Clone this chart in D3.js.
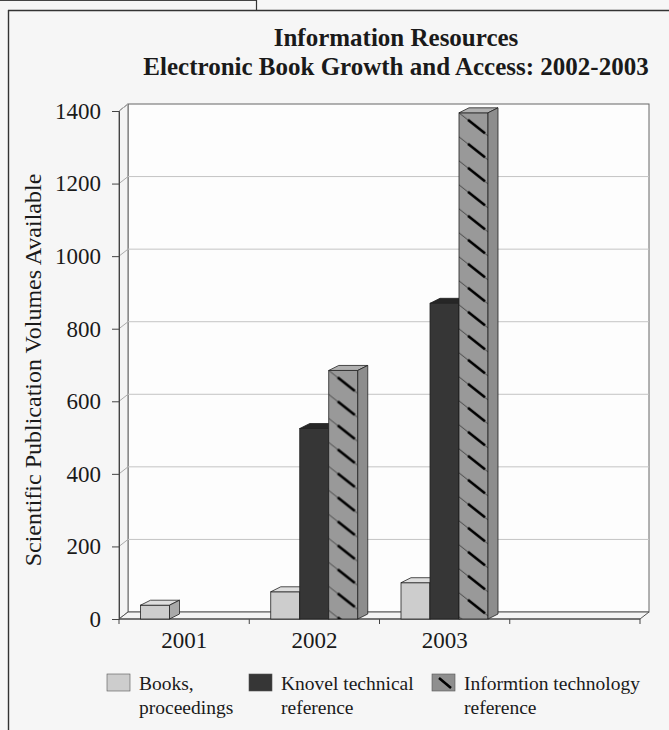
<!DOCTYPE html>
<html>
<head>
<meta charset="utf-8">
<script src="https://cdn.jsdelivr.net/npm/d3@7"></script>
<style>
  html, body { margin: 0; padding: 0; background: #f6f6f6; }
  svg { display: block; }
  text { font-family: "Liberation Serif", "Times New Roman", serif; fill: #1a1a1a; }
</style>
</head>
<body>
<svg id="chart" width="669" height="730"></svg>
<script>
// ---- data ----
const categories = ["2001", "2002", "2003", ""];
const seriesKeys = ["books", "knovel", "itref"];
const booksValues  = [38, 75, 100, 0];
const knovelValues = [0, 525, 870, 0];
const itrefValues  = [0, 685, 1395, 0];
const yTicks = [0, 200, 400, 600, 800, 1000, 1200, 1400];
const titleLines = ["Information Resources", "Electronic Book Growth and Access: 2002-2003"];
const yAxisTitle = "Scientific Publication Volumes Available";
const legendLines = [["Books,", "proceedings"], ["Knovel technical", "reference"], ["Informtion technology", "reference"]];

const seriesValues = { books: booksValues, knovel: knovelValues, itref: itrefValues };

// ---- layout ----
const svg = d3.select("#chart");
const x0 = 119, x1 = 640, yBase = 619, yTop = 111;
const wallDx = 9, wallDy = -7;
const barDx = 10, barDy = -5;

const y = d3.scaleLinear().domain([0, 1400]).range([yBase, yTop]);
const xCat = d3.scaleBand().domain(categories).range([x0, x1]);
const xSer = d3.scaleBand().domain(seriesKeys).range([21.5, 108.5]);

const styles = {
  books:  { front: "#cdcdcd", top: "#dedede", side: "#a9a9a9" },
  knovel: { front: "#363636", top: "#262626", side: "#1e1e1e" },
  itref:  { front: "url(#hatch)", top: "#b0b0b0", side: "#8d8d8d" }
};

// frame
svg.append("line").attr("x1", 0).attr("x2", 256).attr("y1", 0.5).attr("y2", 0.5).attr("stroke", "#444").attr("stroke-width", 1);
svg.append("line").attr("x1", 256.5).attr("x2", 256.5).attr("y1", 0).attr("y2", 10).attr("stroke", "#333").attr("stroke-width", 1.2);
svg.append("line").attr("x1", 8).attr("x2", 669).attr("y1", 10.5).attr("y2", 10.5).attr("stroke", "#333").attr("stroke-width", 1.4);
svg.append("line").attr("x1", 8.5).attr("x2", 8.5).attr("y1", 10).attr("y2", 730).attr("stroke", "#333").attr("stroke-width", 1.4);

// defs: hatch pattern
const defs = svg.append("defs");
const pat = defs.append("pattern").attr("id", "hatch")
  .attr("patternUnits", "userSpaceOnUse").attr("width", 29).attr("height", 24);
pat.append("rect").attr("width", 29).attr("height", 24).attr("fill", "#999");
[-24, 0, 24].forEach(o => {
  pat.append("line").attr("x1", 0).attr("y1", o).attr("x2", 29).attr("y2", o + 23)
    .attr("stroke", "#3a3a3a").attr("stroke-width", 0.9);
  pat.append("line").attr("x1", 9).attr("y1", o + 7).attr("x2", 26).attr("y2", o + 20.5)
    .attr("stroke", "#000").attr("stroke-width", 2.6);
});

// title
svg.append("g").selectAll("text").data(titleLines).join("text")
  .attr("x", 396).attr("y", (d, i) => 46 + i * 29)
  .attr("text-anchor", "middle").attr("font-weight", "bold").attr("font-size", 25)
  .text(d => d);

// walls
const wall = svg.append("g");
wall.append("rect").attr("x", x0 + wallDx).attr("y", yTop + wallDy)
  .attr("width", x1 - x0).attr("height", yBase - yTop)
  .attr("fill", "#fdfdfd").attr("stroke", "#666").attr("stroke-width", 1);
wall.append("path")
  .attr("d", `M${x0},${yTop}L${x0 + wallDx},${yTop + wallDy}L${x0 + wallDx},${yBase + wallDy}L${x0},${yBase}Z`)
  .attr("fill", "#f4f4f4").attr("stroke", "#666").attr("stroke-width", 1);
wall.append("path")
  .attr("d", `M${x0},${yBase}L${x1},${yBase}L${x1 + wallDx},${yBase + wallDy}L${x0 + wallDx},${yBase + wallDy}Z`)
  .attr("fill", "#f4f4f4").attr("stroke", "#555").attr("stroke-width", 1);

// gridlines on back wall + diagonal connectors on left wall
const grid = svg.append("g");
grid.selectAll("line.g").data(yTicks.filter(v => v > 0 && v < 1400)).join("line")
  .attr("class", "g")
  .attr("x1", x0 + wallDx).attr("x2", x1 + wallDx)
  .attr("y1", d => y(d) + wallDy).attr("y2", d => y(d) + wallDy)
  .attr("stroke", "#c4c4c4").attr("stroke-width", 1);
grid.selectAll("line.c").data(yTicks.filter(v => v > 0)).join("line")
  .attr("class", "c")
  .attr("x1", x0).attr("x2", x0 + wallDx)
  .attr("y1", d => y(d)).attr("y2", d => y(d) + wallDy)
  .attr("stroke", "#aaa").attr("stroke-width", 1);

// y axis
const yAxis = d3.axisLeft(y).tickValues(yTicks).tickFormat(d3.format("d")).tickSize(7).tickPadding(11);
const gy = svg.append("g").attr("transform", `translate(${x0},0)`).call(yAxis);
gy.select(".domain").attr("stroke", "#444");
gy.selectAll(".tick line").attr("stroke", "#444");
gy.selectAll(".tick text").attr("font-size", 23).attr("font-family", "Liberation Serif").attr("fill", "#1a1a1a");

// x axis (ticks at category boundaries)
const gx = svg.append("g");
gx.append("line").attr("x1", x0).attr("x2", x1).attr("y1", yBase).attr("y2", yBase).attr("stroke", "#444");
const boundaries = categories.map(c => xCat(c)).concat([xCat(categories[categories.length - 1]) + xCat.bandwidth()]);
gx.selectAll("line.t").data(boundaries).join("line").attr("class", "t")
  .attr("x1", d => d).attr("x2", d => d).attr("y1", yBase).attr("y2", yBase + 5)
  .attr("stroke", "#444");
gx.selectAll("text").data(categories).join("text")
  .attr("x", d => xCat(d) + xCat.bandwidth() / 2).attr("y", 648)
  .attr("text-anchor", "middle").attr("font-size", 23)
  .text(d => d);

// bars
const bars = [];
categories.forEach((c, ci) => {
  seriesKeys.forEach(k => {
    const v = seriesValues[k][ci];
    if (v > 0) bars.push({ c, k, v });
  });
});
const gb = svg.append("g");
bars.forEach((b, i) => {
  const bx = xCat(b.c) + xSer(b.k);
  const bw = xSer.bandwidth();
  const yt = y(b.v), yb = y(0);
  const st = styles[b.k];
  const g = gb.append("g");
  if (b.k === "itref") {
    const id = "hatch" + i;
    defs.append("pattern").attr("id", id).attr("href", "#hatch")
      .attr("patternTransform", `translate(${bx},${yt})`);
    g.append("rect").attr("x", bx).attr("y", yt).attr("width", bw).attr("height", yb - yt)
      .attr("fill", `url(#${id})`).attr("stroke", "#222").attr("stroke-width", 0.8);
  } else {
    g.append("rect").attr("x", bx).attr("y", yt).attr("width", bw).attr("height", yb - yt)
      .attr("fill", st.front).attr("stroke", "#222").attr("stroke-width", 0.8);
  }
  g.append("path")
    .attr("d", `M${bx},${yt}L${bx + barDx},${yt + barDy}L${bx + bw + barDx},${yt + barDy}L${bx + bw},${yt}Z`)
    .attr("fill", st.top).attr("stroke", "#222").attr("stroke-width", 0.8);
  g.append("path")
    .attr("d", `M${bx + bw},${yt}L${bx + bw + barDx},${yt + barDy}L${bx + bw + barDx},${yb + barDy}L${bx + bw},${yb}Z`)
    .attr("fill", st.side).attr("stroke", "#222").attr("stroke-width", 0.8);
});

// y axis title
svg.append("text")
  .attr("transform", `translate(41,370) rotate(-90)`)
  .attr("text-anchor", "middle").attr("font-size", 24)
  .text(yAxisTitle);

// legend
const legendX = [107, 249, 432];
const lg = svg.append("g");
seriesKeys.forEach((k, i) => {
  const gx0 = legendX[i];
  if (k === "itref") {
    lg.append("rect").attr("x", gx0).attr("y", 674).attr("width", 23).attr("height", 17)
      .attr("fill", "#8f8f8f").attr("stroke", "#555").attr("stroke-width", 0.6);
    lg.append("line").attr("x1", gx0 + 7).attr("y1", 678).attr("x2", gx0 + 19).attr("y2", 688)
      .attr("stroke", "#000").attr("stroke-width", 2.6);
  } else {
    lg.append("rect").attr("x", gx0).attr("y", 674).attr("width", 23).attr("height", 17)
      .attr("fill", styles[k].front).attr("stroke", "#555").attr("stroke-width", 0.6);
  }
  lg.append("g").selectAll("text").data(legendLines[i]).join("text")
    .attr("x", gx0 + 32).attr("y", (d, j) => 690 + j * 24)
    .attr("font-size", 19.5)
    .text(d => d);
});
</script>
</body>
</html>
